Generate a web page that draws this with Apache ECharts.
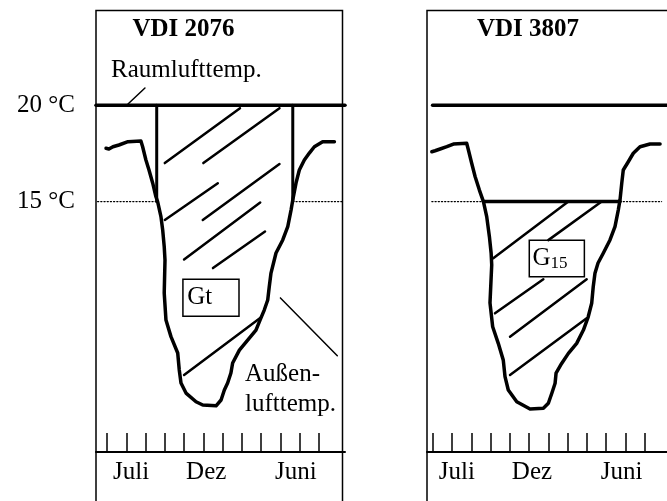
<!DOCTYPE html>
<html>
<head>
<meta charset="utf-8">
<script src="https://cdn.jsdelivr.net/npm/echarts@6/dist/echarts.min.js"></script>
<style>
  html, body { margin: 0; padding: 0; background: #fff; }
  #chart { width: 667px; height: 501px; }
</style>
</head>
<body>
<div id="chart"></div>
<script>
// temperature axis (°C)
const yMin = 2
const yMax = 25
const roomTemp = 20
const heatLimit = 15

// month axis: tick 0 = first tick, one unit per month
const tickMonths = [0, 1, 2, 3, 4, 5, 6, 7, 8, 9, 10, 11]
const monthLabels = ['Juli', 'Dez', 'Juni']
const monthLabelPos = [1.25, 5.15, 9.8]
const tempLabels = [15, 20]

// Außenlufttemperatur, VDI 2076 panel
const outdoorA = [
  [-0.05, 17.77], [0.10, 17.73], [0.31, 17.85], [0.62, 17.94], [1.09, 18.11], [1.76, 18.15],
  [1.85, 17.85], [2.02, 17.16], [2.18, 16.64], [2.37, 15.97], [2.54, 15.25], [2.63, 14.99],
  [2.80, 14.22], [2.89, 13.53], [2.97, 12.66], [3.01, 11.96], [2.97, 10.25], [3.06, 8.85],
  [3.32, 7.99], [3.67, 7.14], [3.75, 6.26], [3.84, 5.58], [4.10, 5.06], [4.62, 4.61],
  [4.97, 4.44], [5.66, 4.40], [5.92, 4.70], [6.09, 5.22], [6.26, 5.58], [6.43, 6.10],
  [6.52, 6.62], [6.87, 7.29], [7.30, 7.81], [7.73, 8.33], [7.99, 8.96], [8.16, 9.37],
  [8.34, 9.89], [8.42, 10.58], [8.51, 11.29], [8.68, 11.97], [8.77, 12.33], [9.12, 13.01],
  [9.38, 13.70], [9.55, 14.56], [9.64, 15.08], [9.81, 15.97], [9.98, 16.64], [10.24, 17.16],
  [10.50, 17.52], [10.76, 17.85], [11.19, 18.11], [11.80, 18.11]
]
// Außenlufttemperatur, VDI 3807 panel
const outdoorB = [
  [-0.05, 17.59], [0.12, 17.64], [0.38, 17.73], [0.73, 17.85], [1.07, 17.99], [1.76, 18.03],
  [1.85, 17.68], [2.02, 16.99], [2.20, 16.29], [2.42, 15.60], [2.63, 15.00], [2.80, 14.22],
  [2.94, 13.18], [3.03, 12.32], [3.06, 11.71], [2.97, 9.74], [3.11, 8.50], [3.40, 7.64],
  [3.66, 6.77], [3.75, 5.91], [3.92, 5.22], [4.36, 4.61], [5.05, 4.23], [5.74, 4.27],
  [6.00, 4.53], [6.18, 5.05], [6.35, 5.57], [6.40, 6.09], [6.69, 6.60], [7.04, 7.12],
  [7.47, 7.64], [7.82, 8.33], [8.07, 9.02], [8.25, 9.72], [8.33, 10.58], [8.42, 11.28],
  [8.58, 11.81], [8.85, 12.32], [9.20, 13.01], [9.46, 13.70], [9.63, 14.56], [9.72, 15.08],
  [9.81, 15.95], [9.89, 16.64], [10.15, 17.07], [10.41, 17.51], [10.76, 17.85], [11.28, 17.99],
  [11.80, 17.99]
]

// start / end of heating period
const heatingA = [2.58, 9.64]
const heatingB = [2.63, 9.72]

// hatching of the areas Gt and G15
const hatchA = [
  [[3.0, 17.0], [6.9, 19.85]],
  [[5.0, 17.0], [8.95, 19.85]],
  [[3.0, 14.05], [5.75, 15.95]],
  [[4.97, 14.05], [8.95, 16.95]],
  [[4.0, 12.0], [7.95, 14.95]],
  [[5.5, 11.55], [8.2, 13.45]],
  [[4.0, 6.0], [8.0, 9.0]]
]
const hatchB = [
  [[3.14, 12.06], [7.04, 15.0]],
  [[6.0, 13.0], [8.77, 15.0]],
  [[3.23, 9.2], [5.74, 10.97]],
  [[4.01, 7.99], [7.99, 10.97]],
  [[4.01, 6.0], [7.99, 8.94]]
]

// leader lines for the labels
const leaderRoom = [[1.97, 20.9], [1.09, 20.07]]
const leaderOut = [[9.0, 10.0], [11.95, 7.0]]

// label boxes
const boxGt = [[3.94, 10.97], [6.85, 9.05]]
const boxG15 = [[5.01, 13.0], [7.87, 11.1]]

const font = 'Liberation Serif, Times New Roman, serif'

const xRangeA = [-0.57, 12.35]
const xRangeB = [-0.3, 12.16]

const seg = (name, data, idx, width, type) => ({
  name: name,
  type: 'line',
  xAxisIndex: idx,
  yAxisIndex: idx,
  data: data,
  symbol: 'none',
  silent: true,
  animation: false,
  lineStyle: { color: '#000', width: width, type: type || 'solid', cap: 'round', join: 'round' }
})

const xAxisOf = (idx, range) => ({
  gridIndex: idx,
  type: 'value',
  min: range[0],
  max: range[1],
  splitLine: { show: false },
  axisLine: { show: true, lineStyle: { color: '#000', width: 2 } },
  axisTick: {
    show: true,
    inside: true,
    length: 19,
    customValues: tickMonths,
    lineStyle: { color: '#000', width: 1.5 }
  },
  axisLabel: {
    show: true,
    customValues: monthLabelPos,
    formatter: (v) => monthLabels[monthLabelPos.indexOf(v)],
    color: '#000',
    fontFamily: font,
    fontSize: 25,
    margin: 8
  }
})

const yAxisOf = (idx, showLabels) => ({
  gridIndex: idx,
  type: 'value',
  min: yMin,
  max: yMax,
  splitLine: { show: false },
  axisLine: { show: false },
  axisTick: { show: false },
  axisLabel: {
    show: showLabels,
    customValues: tempLabels,
    formatter: '{value} °C',
    color: '#000',
    fontFamily: font,
    fontSize: 25,
    margin: 21
  }
})

const dots = [1.2, 2]
const series = []

// panel A: VDI 2076
series.push(seg('Raumlufttemp.', [[xRangeA[0], roomTemp], [xRangeA[1], roomTemp]], 0, 3.5))
series.push(seg('15A1', [[xRangeA[0] + 0.08, heatLimit], [heatingA[0], heatLimit]], 0, 1.2, dots))
series.push(seg('15A2', [[heatingA[1], heatLimit], [12.23, heatLimit]], 0, 1.2, dots))
heatingA.forEach((x, i) => {
  series.push(seg('grenzeA' + i, [[x, roomTemp], [x, heatLimit]], 0, 3))
})
hatchA.forEach((h, i) => series.push(seg('hatchA' + i, h, 0, 2.5)))
series.push(seg('leaderRoom', leaderRoom, 0, 1.5))
series.push(seg('leaderOut', leaderOut, 0, 1.5))
series.push(Object.assign(seg('Außenlufttemp. A', outdoorA, 0, 3.5), {
  markArea: {
    silent: true,
    itemStyle: { color: '#fff', borderColor: '#000', borderWidth: 1.5 },
    label: { position: 'insideLeft', distance: 5, color: '#000', fontFamily: font, fontSize: 25 },
    data: [[{ coord: boxGt[0], name: 'Gt' }, { coord: boxGt[1] }]]
  }
}))

// panel B: VDI 3807
series.push(seg('Raum B', [[-0.01, roomTemp], [xRangeB[1], roomTemp]], 1, 3.5))
series.push(seg('15B1', [[-0.05, heatLimit], [heatingB[0], heatLimit]], 1, 1.2, dots))
series.push(seg('15B2', [[heatingB[1], heatLimit], [11.88, heatLimit]], 1, 1.2, dots))
series.push(seg('15B', [[heatingB[0], heatLimit], [heatingB[1], heatLimit]], 1, 3.5))
hatchB.forEach((h, i) => series.push(seg('hatchB' + i, h, 1, 2.5)))
series.push(Object.assign(seg('Außenlufttemp. B', outdoorB, 1, 3.5), {
  markArea: {
    silent: true,
    itemStyle: { color: '#fff', borderColor: '#000', borderWidth: 1.5 },
    label: {
      position: 'insideLeft',
      distance: 4,
      formatter: 'G{s|15}',
      color: '#000',
      fontFamily: font,
      fontSize: 25,
      rich: { s: { fontFamily: font, fontSize: 17, verticalAlign: 'bottom', padding: [10, 0, 0, 0] } }
    },
    data: [[{ coord: boxG15[0] }, { coord: boxG15[1] }]]
  }
}))

const chart = echarts.init(document.getElementById('chart'), null, { renderer: 'canvas' })
chart.setOption({
  backgroundColor: '#fff',
  animation: false,
  grid: [
    { left: 96, width: 249, top: 9, bottom: 49 },
    { left: 427, right: 0, top: 9, bottom: 49 }
  ],
  xAxis: [xAxisOf(0, xRangeA), xAxisOf(1, xRangeB)],
  yAxis: [yAxisOf(0, true), yAxisOf(1, false)],
  graphic: [
    { type: 'rect', shape: { x: 96, y: 10.5, width: 246.5, height: 600 }, style: { fill: 'none', stroke: '#000', lineWidth: 1.5 }, silent: true },
    { type: 'rect', shape: { x: 427, y: 10.5, width: 400, height: 600 }, style: { fill: 'none', stroke: '#000', lineWidth: 1.5 }, silent: true },
    { type: 'text', x: 183.5, y: 30, style: { text: 'VDI 2076', font: 'bold 25px ' + font, fill: '#000', align: 'center', verticalAlign: 'middle' } },
    { type: 'text', x: 528, y: 30, style: { text: 'VDI 3807', font: 'bold 25px ' + font, fill: '#000', align: 'center', verticalAlign: 'middle' } },
    { type: 'text', x: 111, y: 70.5, style: { text: 'Raumlufttemp.', font: '25px ' + font, fill: '#000', align: 'left', verticalAlign: 'middle' } },
    { type: 'text', x: 245, y: 374.5, style: { text: 'Außen-', font: '25px ' + font, fill: '#000', align: 'left', verticalAlign: 'middle' } },
    { type: 'text', x: 245, y: 404.5, style: { text: 'lufttemp.', font: '25px ' + font, fill: '#000', align: 'left', verticalAlign: 'middle' } }
  ],
  series: series
})
</script>
</body>
</html>
